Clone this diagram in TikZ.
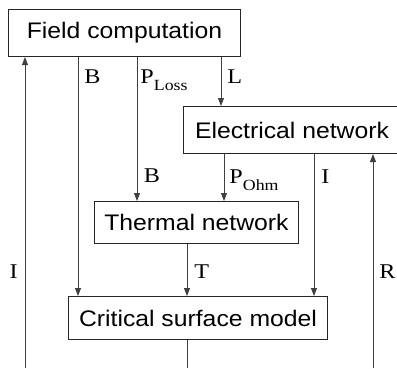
\documentclass[tikz,border=0pt]{standalone}
\usepackage{fontspec}
\usetikzlibrary{positioning, arrows.meta, calc}
\newfontfamily\boxfont[FakeStretch=1.1]{Liberation Sans}
\newfontfamily\lblfont[FakeStretch=1.15]{Liberation Serif}
\newcommand{\lowsub}[1]{\raisebox{-7pt}{\fontsize{15.5}{18}\selectfont #1}}

\begin{document}
\begin{tikzpicture}[
    x=1pt, y=-1pt,
    block/.style={
      draw=black!85, line width=1pt, anchor=north west,
      font=\boxfont\fontsize{22.5}{26}\selectfont
    },
    flow/.style={
      -{Triangle[length=8pt, width=6pt]},
      line width=0.9pt, black!75
    },
    plain/.style={line width=0.9pt, black!75},
    lbl/.style={font=\lblfont\fontsize{21}{24}\selectfont, inner sep=0pt, black},
]
    \useasboundingbox (0,0) rectangle (397,368);
    \clip (0,0) rectangle (397,368);

    % Blocks
    \node[block, minimum width=232, minimum height=47] (field) at (8,9) {Field computation};
    \node[block, minimum width=217, minimum height=47] (elec) at (183,106) {Electrical network};
    \node[block, minimum width=204, minimum height=42] (therm) at (94,201) {Thermal network};
    \node[block, minimum width=259, minimum height=43] (crit) at (68,296) {Critical surface model};

    % Tap points
    \coordinate (iLoop) at (25,368);
    \coordinate (rLoop) at (373,368);
    \coordinate (bOut) at ($(field.south west)+(70,0)$);
    \coordinate (lossOut) at ($(field.south west)+(129,0)$);
    \coordinate (lOut) at ($(field.south west)+(213,0)$);
    \coordinate (ohmOut) at ($(elec.south west)+(41,0)$);
    \coordinate (iOut) at ($(elec.south west)+(131,0)$);
    \coordinate (tOut) at ($(therm.south west)+(93,0)$);
    \coordinate (critOut) at ($(crit.south west)+(119,0)$);

    % Field computation outputs
    \draw[flow] (bOut) -- (bOut |- crit.north)
      node[lbl, at start, anchor=base west, xshift=6pt, yshift=-26pt] {B};
    \draw[flow] (lossOut) -- (lossOut |- therm.north)
      node[lbl, at start, anchor=base west, xshift=3pt, yshift=-26pt] {P\lowsub{Loss}}
      node[lbl, at end, anchor=base west, xshift=6.5pt, yshift=19pt] {B};
    \draw[flow] (lOut) -- (lOut |- elec.north)
      node[lbl, at start, anchor=base west, xshift=6pt, yshift=-26pt] {L};

    % Electrical network outputs
    \draw[flow] (ohmOut) -- (ohmOut |- therm.north)
      node[lbl, at start, anchor=base west, xshift=5pt, yshift=-29pt] {P\lowsub{Ohm}};
    \draw[flow] (iOut) -- (iOut |- crit.north)
      node[lbl, at start, anchor=base west, xshift=7pt, yshift=-29pt] {I};

    % Thermal network output
    \draw[flow] (tOut) -- (tOut |- crit.north)
      node[lbl, at start, anchor=base west, xshift=7pt, yshift=-34pt] {T};

    % Feedback loops
    \draw[plain] (critOut) -- (critOut |- iLoop);
    \draw[flow] (iLoop) -- (iLoop |- field.south)
      node[lbl, at start, anchor=base east, xshift=-7pt, yshift=90pt] {I};
    \draw[flow] (rLoop) -- (rLoop |- elec.south)
      node[lbl, at start, anchor=base west, xshift=6pt, yshift=90pt] {R};
\end{tikzpicture}
\end{document}
